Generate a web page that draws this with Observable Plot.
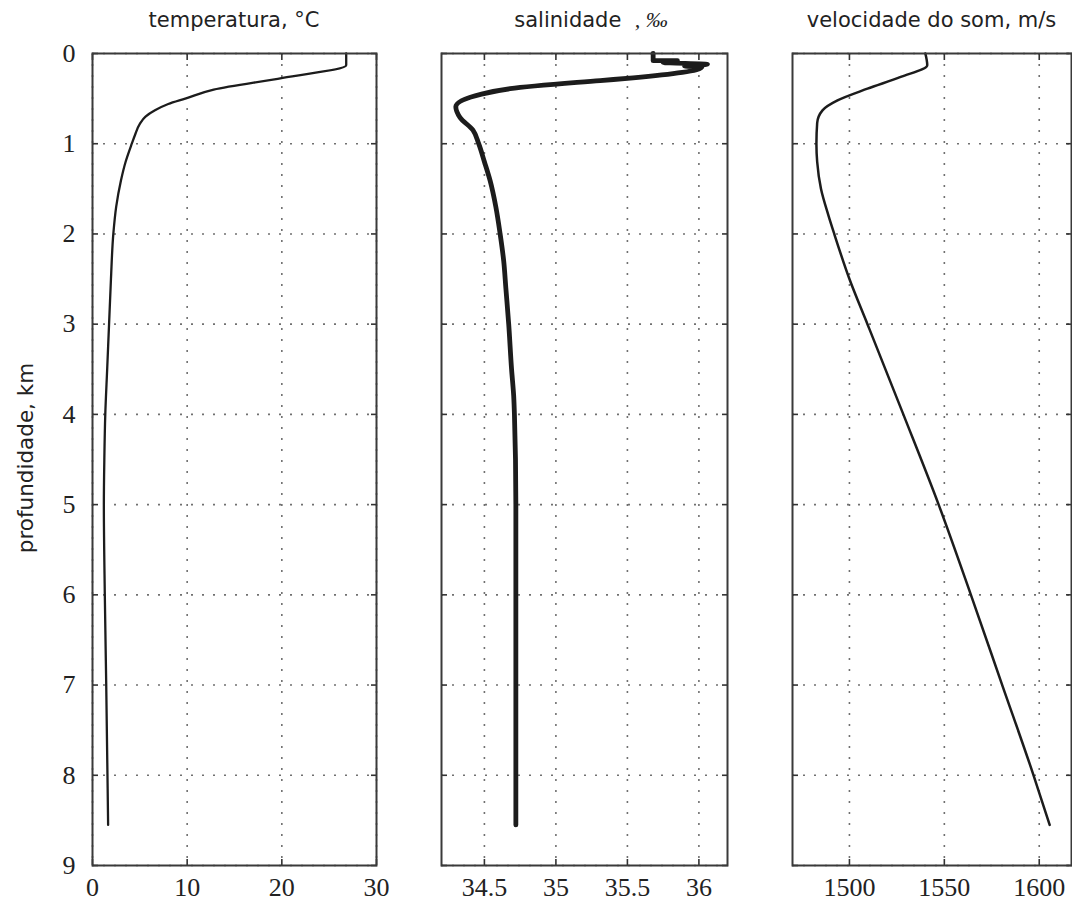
<!DOCTYPE html>
<html>
<head>
<meta charset="utf-8">
<script src="https://cdn.jsdelivr.net/npm/d3@7"></script>
<script src="https://cdn.jsdelivr.net/npm/@observablehq/plot@0.6"></script>
<style>
  html, body { margin: 0; padding: 0; background: #fff; overflow: hidden; }
  #chart { position: relative; width: 1072px; height: 901px; }
  #chart > svg { position: absolute; top: 0; }
  #chart svg text { font-family: "Liberation Serif", "Times New Roman", serif !important; font-size: 26px !important; fill: #222; }
  .title { position: absolute; top: 8px; text-align: center; font-family: "DejaVu Sans", sans-serif; font-size: 21px; line-height: 24px; color: #222; white-space: pre; }
  .permil { font-family: "Liberation Serif", serif; font-style: italic; font-size: 22px; }
  .ylab { position: absolute; left: 25px; top: 458px; transform: translate(-50%, -50%) rotate(-90deg); font-family: "DejaVu Sans", sans-serif; font-size: 21.5px; color: #222; white-space: nowrap; }
</style>
</head>
<body>
<div id="chart"></div>
<script>
// Depth ticks shared by all three profiles (km)
const depthTicks = [0, 1, 2, 3, 4, 5, 6, 7, 8, 9];

// Temperature profile (°C)
const depthT = [0, 0.13, 0.27, 0.40, 0.50, 0.56, 0.63, 0.70, 0.78, 0.90, 1.0, 1.2, 1.41, 1.7, 2, 2.5, 3, 3.5, 4, 4.5, 5, 6, 7, 8.55];
const temperature = [26.8, 26.8, 20.1, 12.8, 9.8, 8.0, 6.6, 5.6, 5.0, 4.5, 4.15, 3.5, 3.0, 2.5, 2.2, 1.95, 1.75, 1.55, 1.35, 1.25, 1.2, 1.3, 1.45, 1.65];
const tempTicks = [0, 10, 20, 30];

// Salinity profile (‰)
const depthS = [0, 0.08, 0.08, 0.10, 0.12, 0.14, 0.15, 0.27, 0.30, 0.39, 0.45, 0.59, 0.71, 0.85, 1.0, 1.2, 1.41, 1.7, 2.0, 2.3, 2.6, 3.0, 3.5, 3.8, 4.0, 5, 6, 7, 8.55];
const salinity = [35.68, 35.68, 35.85, 35.75, 36.06, 35.9, 36.02, 35.54, 35.31, 34.68, 34.48, 34.30, 34.33, 34.42, 34.46, 34.50, 34.54, 34.58, 34.61, 34.635, 34.65, 34.67, 34.69, 34.705, 34.71, 34.72, 34.72, 34.72, 34.72];
const salTicks = [34.5, 35, 35.5, 36];

// Sound speed profile (m/s)
const depthC = [0, 0.13, 0.26, 0.39, 0.52, 0.63, 0.77, 1.0, 1.2, 1.5, 1.8, 2, 2.5, 3, 4, 5, 6, 7, 8, 8.55];
const speed = [1540, 1541, 1527, 1509.5, 1493.7, 1485.8, 1483, 1482.6, 1483, 1485, 1489, 1492, 1500, 1509.5, 1528.4, 1547, 1564, 1580.5, 1597, 1605.5];
const speedTicks = [1500, 1550, 1600];

const rows = (xs, ys) => xs.map((v, i) => ({v, d: ys[i]}));

const gridStyle = {stroke: "#707070", strokeOpacity: 1, strokeWidth: 1.6, strokeDasharray: "2,9"};
const inkColor = "#1c1c1c";
const fmt = d => String(d);

function panel({left, width, marginLeft, marginRight, domain, ticks, data, lineWidth, showY}) {
  const tick = {tickSize: 6, stroke: "#333", strokeWidth: 1.6, tickFormat: () => "", label: null};
  const marks = [
    Plot.gridX(ticks, gridStyle),
    Plot.gridY(depthTicks, gridStyle),
    Plot.line(data, {x: "v", y: "d", stroke: inkColor, strokeWidth: lineWidth, strokeLinejoin: "round", strokeLinecap: "round", curve: "monotone-y"}),
    // inward ticks on every side of the frame
    Plot.axisX(ticks, {...tick, anchor: "bottom", dy: -6}),
    Plot.axisX(ticks, {...tick, anchor: "top", dy: 6}),
    Plot.axisY(depthTicks, {...tick, anchor: "left", dx: 6}),
    Plot.axisY(depthTicks, {...tick, anchor: "right", dx: -6}),
    Plot.axisX(ticks, {anchor: "bottom", tickSize: 0, tickPadding: 12, label: null, tickFormat: fmt, fontSize: 26, fontFamily: "Liberation Serif"}),
    Plot.frame({stroke: "#3a3a3a", strokeWidth: 2})
  ];
  if (showY) marks.push(Plot.axisY(depthTicks, {anchor: "left", tickSize: 0, tickPadding: 17, label: null, tickFormat: fmt, fontSize: 26, fontFamily: "Liberation Serif"}));
  const svg = Plot.plot({
    width, height: 901,
    marginLeft, marginRight, marginTop: 53, marginBottom: 36,
    x: {domain, ticks},
    y: {domain: [0, 9], reverse: true},
    style: {background: "transparent", overflow: "visible"},
    marks
  });
  svg.style.left = left + "px";
  // serif tick numerals
  d3.select(svg).selectAll("text")
    .style("font-family", "'Liberation Serif', 'Times New Roman', serif")
    .style("font-size", "26px");
  return svg;
}

const chart = document.getElementById("chart");
chart.append(
  panel({left: 0, width: 396, marginLeft: 92, marginRight: 20, domain: [0, 30], ticks: tempTicks, data: rows(temperature, depthT), lineWidth: 2.3, showY: true}),
  panel({left: 420, width: 327, marginLeft: 21, marginRight: 20, domain: [34.2, 36.2], ticks: salTicks, data: rows(salinity, depthS), lineWidth: 4.8, showY: false}),
  panel({left: 770, width: 302, marginLeft: 22, marginRight: 1, domain: [1470, 1617], ticks: speedTicks, data: rows(speed, depthC), lineWidth: 2.5, showY: false})
);

function addTitle(html, left, width) {
  const t = document.createElement("div");
  t.className = "title";
  t.style.left = left + "px";
  t.style.width = width + "px";
  t.innerHTML = html;
  chart.append(t);
}
addTitle("temperatura, °C", 92, 284);
addTitle("salinidade  <span class=\"permil\">, ‰</span>", 441, 300);
addTitle("velocidade do som, m/s", 792, 279);

const ylab = document.createElement("div");
ylab.className = "ylab";
ylab.textContent = "profundidade, km";
chart.append(ylab);
</script>
</body>
</html>
